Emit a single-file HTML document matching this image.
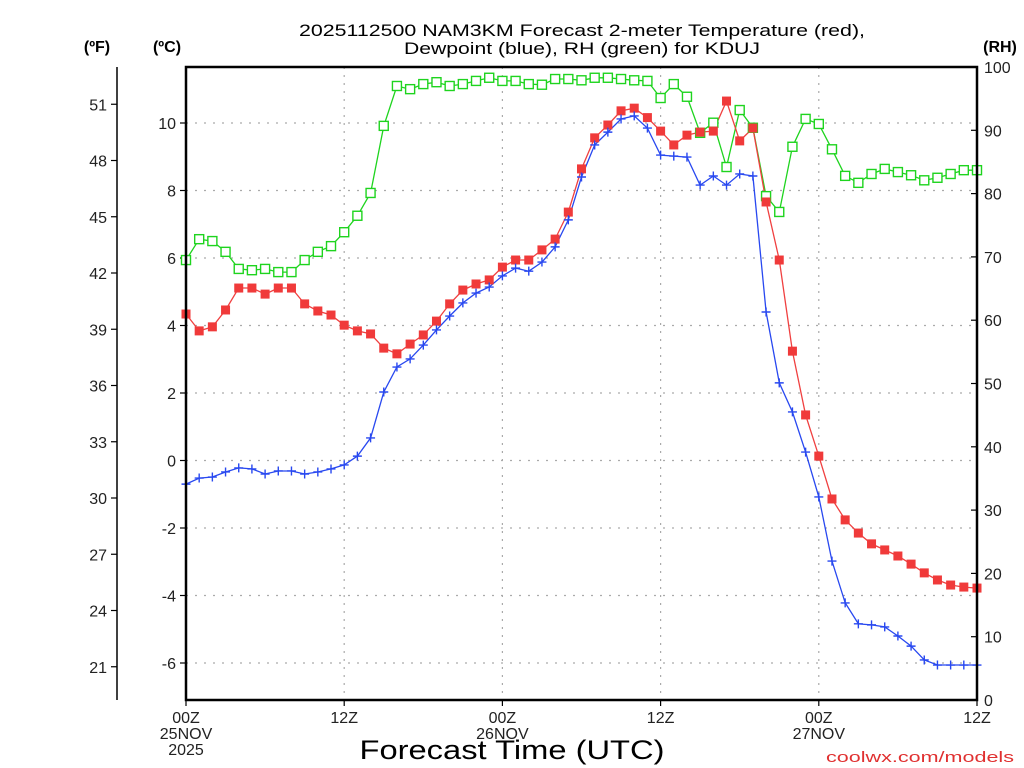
<!DOCTYPE html>
<html><head><meta charset="utf-8"><style>
html,body{margin:0;padding:0;background:#fff;}
svg{display:block;font-family:"Liberation Sans",sans-serif;}
</style></head><body>
<svg id="chart" width="1024" height="768" viewBox="0 0 1024 768" xmlns="http://www.w3.org/2000/svg">
<text x="582" y="36" text-anchor="middle" font-size="17" fill="#000" textLength="566" lengthAdjust="spacingAndGlyphs">2025112500 NAM3KM Forecast 2-meter Temperature (red),</text>
<text x="582" y="54" text-anchor="middle" font-size="17" fill="#000" textLength="356" lengthAdjust="spacingAndGlyphs">Dewpoint (blue), RH (green) for KDUJ</text>
<text x="97" y="52" text-anchor="middle" font-size="16" font-weight="bold">(ºF)</text>
<text x="167" y="52" text-anchor="middle" font-size="16" font-weight="bold">(ºC)</text>
<text x="1000" y="52" text-anchor="middle" font-size="16" font-weight="bold">(RH)</text>
<g id="grid"></g>
<g id="axes"></g>
<g id="series"></g>
<rect x="186" y="67" width="791" height="633" fill="none" stroke="#000" stroke-width="2.5"/>
<text x="512" y="759" text-anchor="middle" font-size="27" textLength="305" lengthAdjust="spacingAndGlyphs">Forecast Time (UTC)</text>
<text x="1014" y="762" text-anchor="end" font-size="15" fill="#e03030" textLength="188" lengthAdjust="spacingAndGlyphs">coolwx.com/models</text>
</svg>
<script>
const hours = [];
for (let i = 0; i <= 60; i++) hours.push(i);
const temperatureC = [4.34,3.84,3.96,4.46,5.11,5.11,4.93,5.11,5.11,4.64,4.43,4.31,4.01,3.84,3.75,3.33,3.16,3.45,3.72,4.13,4.64,5.05,5.23,5.35,5.73,5.94,5.94,6.24,6.56,7.36,8.64,9.56,9.94,10.36,10.44,10.16,9.76,9.35,9.64,9.73,9.76,10.65,9.47,9.85,7.66,5.94,3.24,1.35,0.13,-1.14,-1.76,-2.15,-2.47,-2.65,-2.83,-3.07,-3.33,-3.54,-3.69,-3.75,-3.78];
const dewpointC = [-0.70,-0.52,-0.49,-0.34,-0.22,-0.25,-0.40,-0.31,-0.31,-0.40,-0.34,-0.25,-0.13,0.13,0.67,2.03,2.77,3.01,3.42,3.87,4.28,4.67,4.96,5.14,5.47,5.70,5.61,5.88,6.33,7.13,8.40,9.35,9.73,10.12,10.21,9.85,9.05,9.02,8.99,8.16,8.43,8.16,8.49,8.43,4.40,2.30,1.44,0.25,-1.08,-2.98,-4.22,-4.84,-4.87,-4.93,-5.20,-5.50,-5.91,-6.06,-6.06,-6.06,-6.06];
const rhPct = [69.5,72.8,72.5,70.8,68.1,67.9,68.1,67.6,67.6,69.5,70.8,71.7,73.9,76.5,80.1,90.7,97.0,96.5,97.3,97.6,97.0,97.3,97.8,98.3,97.8,97.8,97.3,97.2,98.1,98.1,97.9,98.3,98.3,98.1,97.9,97.8,95.1,97.3,95.3,89.6,91.2,84.2,93.2,90.4,79.6,77.1,87.4,91.8,91.0,87.0,82.8,81.7,83.1,83.9,83.4,82.9,82.1,82.5,83.1,83.7,83.7];
const celsiusTicks = [-6,-4,-2,0,2,4,6,8,10];
const fahrenheitTicks = [21,24,27,30,33,36,39,42,45,48,51];
const rhTicks = [0,10,20,30,40,50,60,70,80,90,100];
const timeTickHours = [0,12,24,36,48,60];
const timeTickLabels = [["00Z","25NOV","2025"],["12Z"],["00Z","26NOV"],["12Z"],["00Z","27NOV"],["12Z"]];

const NS = "http://www.w3.org/2000/svg";
const X0 = 186, X1 = 977, YT = 67, YB = 700;
const xS = h => X0 + (X1 - X0) * h / 60;
const yC = c => 460.5 - 33.75 * c;
const yF = f => yC((f - 32) * 5 / 9);
const yRH = r => YB - (YB - YT) * r / 100;
function mk(tag, attrs, parent) {
  const e = document.createElementNS(NS, tag);
  for (const k in attrs) e.setAttribute(k, attrs[k]);
  parent.appendChild(e);
  return e;
}
const grid = document.getElementById('grid');
const axes = document.getElementById('axes');
const series = document.getElementById('series');

celsiusTicks.forEach(c => {
  const g = mk('line', {x1: X0, x2: X1, y1: yC(c), y2: yC(c), stroke: '#aaa', 'stroke-width': 1.2, 'stroke-dasharray': '2,7'}, grid);
  
  
  const t = mk('line', {x1: X0 - 6, x2: X0, y1: yC(c), y2: yC(c), stroke: '#000', 'stroke-width': 1.2}, axes);
  
  
  const l = mk('text', {x: X0 - 10, y: yC(c) + 6, 'text-anchor': 'end', 'font-size': 16, fill: '#222'}, axes);
  l.textContent = c;
  
  
});
const fl = mk('line', {x1: 117, x2: 117, y1: YT, y2: YB, stroke: '#000', 'stroke-width': 1.5}, axes);


fahrenheitTicks.forEach(f => {
  const t = mk('line', {x1: 111, x2: 117, y1: yF(f), y2: yF(f), stroke: '#000', 'stroke-width': 1.2}, axes);
  
  
  const l = mk('text', {x: 107, y: yF(f) + 6, 'text-anchor': 'end', 'font-size': 16, fill: '#222'}, axes);
  l.textContent = f;
  
  
});
rhTicks.forEach(r => {
  const t = mk('line', {x1: X1 - 6, x2: X1, y1: yRH(r), y2: yRH(r), stroke: '#000', 'stroke-width': 1.2}, axes);
  
  
  const l = mk('text', {x: 984, y: yRH(r) + 6, 'text-anchor': 'start', 'font-size': 16, fill: '#222'}, axes);
  l.textContent = r;
  
  
});
timeTickHours.forEach((h, i) => {
  if (h > 0 && h < 60) {
    const g = mk('line', {x1: xS(h), x2: xS(h), y1: YT, y2: YB, stroke: '#aaa', 'stroke-width': 1.2, 'stroke-dasharray': '2,6'}, grid);
    
    
  }
  const t = mk('line', {x1: xS(h), x2: xS(h), y1: YB, y2: YB + 6, stroke: '#000', 'stroke-width': 1.2}, axes);
  
  
  timeTickLabels[i].forEach((s, j) => {
    const l = mk('text', {x: xS(h), y: 723 + j * 16, 'text-anchor': 'middle', 'font-size': 16, fill: '#222'}, axes);
    l.textContent = s;
    
    
  });
});

function drawLine(vals, yfn, color, name) {
  const pts = vals.map((v, i) => xS(hours[i]).toFixed(1) + ',' + yfn(v).toFixed(1)).join(' ');
  const p = mk('polyline', {points: pts, fill: 'none', stroke: color, 'stroke-width': 1.3}, series);
  
  
}
drawLine(rhPct, yRH, '#1ed41e', 'rh-line');
drawLine(temperatureC, yC, '#f04040', 'temperature-line');
drawLine(dewpointC, yC, '#2848f0', 'dewpoint-line');
rhPct.forEach((v, i) => {
  const m = mk('rect', {x: xS(hours[i]) - 4.5, y: yRH(v) - 4.5, width: 9, height: 9, fill: '#fff', stroke: '#1ed41e', 'stroke-width': 1.4}, series);
  
  
});
temperatureC.forEach((v, i) => {
  const m = mk('rect', {x: xS(hours[i]) - 4.5, y: yC(v) - 4.5, width: 9, height: 9, fill: '#f03a3a'}, series);
  
  
});
dewpointC.forEach((v, i) => {
  const x = xS(hours[i]), y = yC(v);
  const m = mk('path', {d: `M${x-4.5},${y}H${x+4.5}M${x},${y-4.5}V${y+4.5}`, stroke: '#2848f0', 'stroke-width': 1.4, fill: 'none'}, series);
  
  
});
</script>
</body></html>
